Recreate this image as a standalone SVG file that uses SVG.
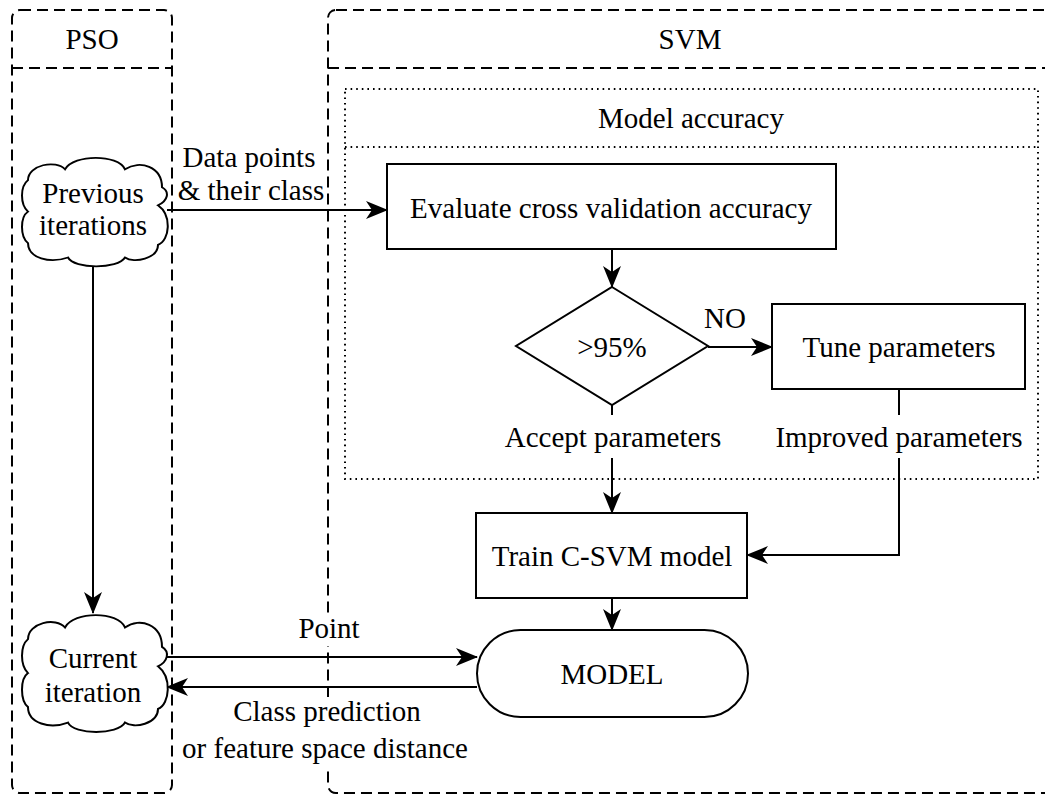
<svg xmlns="http://www.w3.org/2000/svg" width="1045" height="795" viewBox="0 0 1045 795">
  <defs>
    <marker id="arrow" markerUnits="userSpaceOnUse" markerWidth="22" markerHeight="18" viewBox="0 0 22 18" refX="21" refY="9" orient="auto">
      <path d="M0,0 L22,9 L0,18 L6,9 Z" fill="#000"/>
    </marker>
    <!-- cloud outline, 146 x 125 box -->
    <path id="cloud" d="M 6 29 C 6 12, 34 6, 43 17 C 52 0, 96 0, 103 17 C 118 6, 140 14, 140 37 C 148 42, 146 52, 136 57 C 150 68, 148 96, 136 101 C 136 116, 112 122, 103 115 C 96 128, 52 128, 46 115 C 28 122, 6 116, 6 99 C -2 92, -2 70, 6 64 C -2 56, -2 36, 6 29 Z"/>
  </defs>
  <style>
    text { font-family: "Liberation Serif", "Times New Roman", serif; font-size: 29px; fill: #000; text-anchor: middle; }
    .lane { fill: none; stroke: #000; stroke-width: 2; stroke-dasharray: 11 6; }
    .dotted { fill: none; stroke: #000; stroke-width: 2; stroke-dasharray: 1.6 4; }
    .shape { fill: #fff; stroke: #000; stroke-width: 2; }
    .cloud { fill: #fff; stroke: #000; stroke-width: 2; vector-effect: non-scaling-stroke; }
    .edge { fill: none; stroke: #000; stroke-width: 2; }
    .arrow { marker-end: url(#arrow); }
    .lblbg { fill: #fff; stroke: none; }
  </style>
  <rect width="1045" height="795" fill="#fff"/>

  <!-- swimlanes -->
  <g id="lane-pso">
    <rect class="lane" x="12" y="10" width="160" height="783" rx="8" ry="8"/>
    <line class="lane" x1="12" y1="68" x2="172" y2="68"/>
    <text x="92" y="49">PSO</text>
  </g>
  <g id="lane-svm">
    <rect class="lane" x="328" y="10" width="760" height="783" rx="8" ry="8"/>
    <line class="lane" x1="328" y1="68" x2="1088" y2="68"/>
    <text x="690" y="49">SVM</text>
  </g>
  <g id="model-accuracy">
    <rect class="dotted" x="345" y="89" width="693" height="390"/>
    <line class="dotted" x1="345" y1="147" x2="1038" y2="147"/>
    <text x="691" y="128">Model accuracy</text>
  </g>

  <!-- connectors -->
  <g id="connectors">
    <path class="edge arrow" d="M 167 210 L 387 210"/>
    <path class="edge arrow" d="M 93 267 L 93 613"/>
    <path class="edge arrow" d="M 612 249 L 612 287"/>
    <path class="edge arrow" d="M 708 347 L 772 347"/>
    <path class="edge arrow" d="M 612 405 L 612 513"/>
    <path class="edge arrow" d="M 899 389 L 899 555 L 747 555"/>
    <path class="edge arrow" d="M 612 598 L 612 630"/>
    <path class="edge arrow" d="M 167 657 L 477 657"/>
    <path class="edge arrow" d="M 477 687 L 167 687"/>

    <rect class="lblbg" x="296" y="614" width="66" height="32"/>
    <rect class="lblbg" x="177" y="697" width="298" height="70"/>
    <rect class="lblbg" x="503" y="415" width="220" height="43"/>
    <rect class="lblbg" x="772" y="415" width="254" height="43"/>

    <text x="249" y="167">Data points</text>
    <text x="251" y="200">&amp; their class</text>
    <text x="725" y="328">NO</text>
    <text x="613" y="447">Accept parameters</text>
    <text x="899" y="447">Improved parameters</text>
    <text x="329" y="638">Point</text>
    <text x="327" y="721">Class prediction</text>
    <text x="325" y="758">or feature space distance</text>
  </g>

  <!-- nodes -->
  <g id="previous-iterations">
    <use href="#cloud" class="cloud" transform="translate(22,154) scale(1,0.9)"/>
    <text x="93" y="203">Previous</text>
    <text x="93" y="235">iterations</text>
  </g>
  <g id="current-iteration">
    <use href="#cloud" class="cloud" transform="translate(22,611) scale(1,0.97)"/>
    <text x="93" y="668">Current</text>
    <text x="93" y="702">iteration</text>
  </g>
  <g id="evaluate">
    <rect class="shape" x="387" y="164" width="449" height="85"/>
    <text x="611" y="218">Evaluate cross validation accuracy</text>
  </g>
  <g id="threshold">
    <polygon class="shape" points="612,287 708,346 612,405 516,346"/>
    <text x="612" y="357">&gt;95%</text>
  </g>
  <g id="tune">
    <rect class="shape" x="772" y="304" width="253" height="85"/>
    <text x="899" y="357">Tune parameters</text>
  </g>
  <g id="train">
    <rect class="shape" x="476" y="513" width="271" height="85"/>
    <text x="612" y="566">Train C-SVM model</text>
  </g>
  <g id="model">
    <rect class="shape" x="477" y="630" width="271" height="87" rx="43.5" ry="43.5"/>
    <text x="612" y="684">MODEL</text>
  </g>
</svg>
